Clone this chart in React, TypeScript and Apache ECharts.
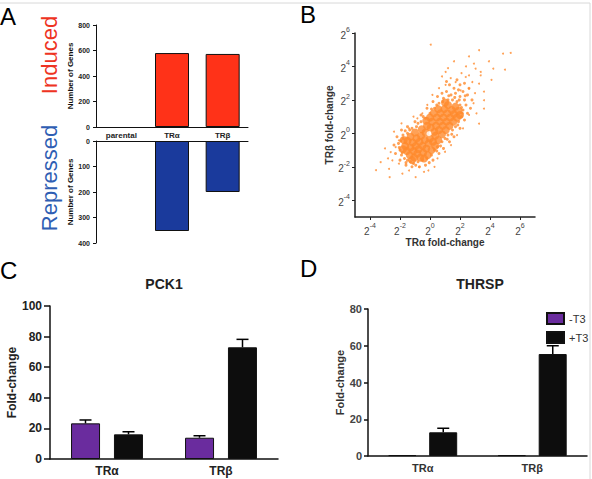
import React, { useEffect, useRef } from "react";
import * as echarts from "echarts";

// ---------- DATA ----------
const aCategories = ["parental", "TRα", "TRβ"];
const inducedValues = [0, 580, 573];
const repressedValues = [0, 353, 200];

// Panel B: log2 fold-change (x: TRα, y: TRβ)
const scatterCore: number[][] = [
  [-1.65, -0.75], [-1.55, -1.05], [-1.5, -0.45], [-1.35, -1.3], [-1.3, -0.85], [-1.3, -0.2],
  [-1.15, -0.55], [-1.1, -1.05], [-1.05, -1.45], [-1.0, 0.05], [-0.95, -0.75], [-0.9, -0.3],
  [-0.85, -1.2], [-0.75, -0.95], [-0.7, -0.5], [-0.65, -1.45], [-0.6, -0.15], [-0.55, 0.25],
  [-0.5, -0.75], [-0.45, -1.15], [-0.35, -0.4], [-0.3, 0.05], [-0.25, -0.9], [-0.2, 0.45],
  [-0.15, -1.3], [-0.1, -0.6], [0.0, -0.3], [0.05, 0.35], [0.1, -1.0], [0.15, 0.7],
  [0.2, -0.5], [0.3, 0.1], [0.35, -0.15], [0.4, 0.45], [0.45, 0.95], [0.55, -0.4],
  [0.6, 0.2], [0.65, 0.7], [0.7, 1.2], [0.8, -0.05], [0.85, 0.45], [0.9, 0.95],
  [0.95, 1.45], [1.05, 0.2], [1.1, 0.7], [1.15, 1.2], [1.2, 1.7], [1.3, 0.45],
  [1.35, 0.95], [1.45, 1.4], [1.55, 0.7], [1.6, 1.15], [1.7, 1.6], [1.8, 0.95],
  [1.9, 1.35], [0.25, 1.2], [0.0, 0.95], [-0.25, 0.75], [1.0, 1.85], [2.0, 1.1],
  [-1.8, -0.95], [-1.75, -0.4], [-1.2, -1.6], [-0.4, -1.5], [0.35, -0.75], [0.55, 1.45],
];
const scatterMid: number[][] = [
  [-2.0, -1.0], [-2.1, -0.6], [-1.9, -1.3], [-1.8, -0.3], [-1.7, -1.5], [-1.5, -1.6],
  [-1.3, -1.7], [-1.1, -1.8], [-0.8, -1.7], [-0.5, -1.6], [-0.2, -1.5], [0.1, -1.3],
  [0.3, -1.0], [0.5, -0.8], [0.8, -0.5], [1.0, -0.3], [1.2, -0.1], [1.5, 0.2],
  [1.7, 0.4], [1.9, 0.7], [2.1, 1.0], [2.2, 1.4], [2.0, 1.7], [1.8, 1.9],
  [1.5, 2.0], [1.2, 2.0], [0.9, 2.1], [0.6, 1.8], [0.3, 1.5], [0.0, 1.2],
  [-0.3, 0.9], [-0.6, 0.7], [-0.9, 0.4], [-1.2, 0.3], [-1.5, 0.0], [-1.8, -0.1],
  [1.4, 2.3], [1.7, 2.4], [2.0, 2.2], [2.3, 2.0], [2.4, 1.7], [1.1, 2.5],
  [1.6, 2.7], [1.9, 2.6], [2.2, 2.5], [2.5, 2.3], [1.3, 2.9], [2.0, 2.9],
  [2.6, 2.7], [0.8, 2.4], [0.5, 2.2], [2.5, 1.2], [2.3, 0.8], [2.0, 0.3],
  [1.6, -0.2], [1.3, -0.5], [0.9, -0.9], [0.6, -1.2], [0.2, -1.6], [-0.3, -1.9],
  [-0.7, -2.0], [-1.2, -2.0], [-1.6, -1.9], [-2.0, -1.6], [-2.3, -1.2], [-2.4, -0.7],
  [-2.2, -0.2], [-1.9, 0.2], [-1.5, 0.4], [-1.0, 0.7], [-0.6, 1.1], [-0.2, 1.5],
  [0.2, 1.9], [2.8, 2.0], [2.7, 1.5], [1.1, 3.1], [1.8, 3.2], [2.3, 3.0],
  [-2.05, -0.85], [-1.95, -0.45], [-1.85, -1.15], [-1.6, -1.75], [-0.95, -1.9], [-0.05, -1.75],
  [0.45, -1.05], [0.7, -0.75], [1.15, -0.35], [1.45, -0.05], [1.85, 0.5], [2.15, 1.2],
  [2.1, 1.55], [1.65, 2.15], [1.25, 2.25], [0.85, 1.9], [0.45, 1.7], [0.1, 1.45],
  [-0.45, 1.0], [-0.8, 0.6], [-1.35, 0.2], [-1.65, 0.15], [1.95, 2.0], [2.35, 2.25],
];
const scatterSparse: number[][] = [
  [0.05, 5.3], [3.27, 4.97], [4.87, 4.77], [5.38, 4.81], [1.6, 4.31], [5.0, 3.81],
  [3.93, 4.31], [4.22, 3.87], [2.93, 4.17], [3.38, 3.67], [3.6, 1.48], [3.27, 0.58],
  [3.6, 1.98], [-3.29, -1.72], [-2.73, -2.12], [-2.69, -2.62], [-1.84, -2.41],
  [-0.96, -2.62], [-0.11, -2.22], [-2.29, -0.82], [-2.07, -1.81], [1.04, 3.67],
  [2.38, 3.37], [2.82, 3.07], [2.6, 2.68], [2.04, 2.57], [1.71, 3.07], [3.27, 2.97],
  [3.38, 3.47], [3.04, 3.87], [2.6, 3.47], [-1.4, -2.22], [-0.73, -2.02], [-2.51, -1.62],
  [-2.62, -1.12], [-2.07, -0.42], [-1.4, 0.3], [-0.84, 0.9], [-0.51, 1.2], [-0.18, 1.7],
  [0.16, 2.3], [0.6, 2.7], [1.04, 2.9], [1.38, 3.3], [2.9, 1.8], [2.6, 1.1],
  [2.2, 0.3], [1.8, -0.1], [1.4, -0.7], [1.0, -1.1], [0.5, -1.5], [0.3, -2.0],
  [-0.4, -2.3], [-2.8, -1.5], [-3.0, -0.9], [-2.4, 0.1], [-1.1, 1.0], [2.4, 4.0],
  [2.1, 3.6], [3.6, 2.5], [3.0, 2.4], [4.1, 3.2], [0.8, 3.4], [3.1, 1.2],
  [-1.9, 0.6], [2.6, 4.6], [1.2, 3.9], [-3.6, -2.2],
];
const scatterCenter: number[][] = [[-0.07, -0.02]];
const logTicks = [-4, -2, 0, 2, 4, 6];

// Panels C & D
const qCategories = ["TRα", "TRβ"];
const pck1Minus = [23.3, 13.9];
const pck1MinusErr = [2.2, 1.3];
const pck1Plus = [16.1, 73];
const pck1PlusErr = [1.7, 5.2];
const thrspMinus = [0.5, 0.5];
const thrspPlus = [12.9, 55.5];
const thrspPlusErr = [2.2, 4.5];

const FONT = "Liberation Sans, Arial, Helvetica, sans-serif";
const PURPLE = "#6a2c9e";
const BLACK = "#0d0d0d";
const ORANGE = "#ff8a2c";

function errData(vals: number[], errs: number[], side: number) {
  return vals.map((v, i) => [i, v, errs[i], side]);
}

function noZero(vals: number[]) {
  return vals.map((v) => (v === 0 ? "-" : v));
}

function errSeries(xi: number, yi: number, data: number[][], offset: number) {
  return {
    type: "custom",
    xAxisIndex: xi,
    yAxisIndex: yi,
    z: 10,
    encode: { x: 0, y: 1 },
    data,
    renderItem: (params: any, api: any) => {
      const base = api.coord([api.value(0), api.value(1)]);
      const top = api.coord([api.value(0), api.value(1) + api.value(2)]);
      const x = base[0] + api.value(3) * offset;
      return {
        type: "group",
        children: [
          { type: "line", shape: { x1: x, y1: base[1], x2: x, y2: top[1] }, style: { stroke: "#000", lineWidth: 1.5 } },
          { type: "line", shape: { x1: x - 6, y1: top[1], x2: x + 6, y2: top[1] }, style: { stroke: "#000", lineWidth: 1.5 } },
        ],
      };
    },
  };
}

export default function App() {
  const ref = useRef<HTMLDivElement>(null);
  useEffect(() => {
    if (!ref.current) return;
    const chart = echarts.init(ref.current, null, { renderer: "svg" });
    const smallAxisLabel = { fontSize: 7, fontWeight: "bold", color: "#222", fontFamily: FONT, margin: 6 };
    const bLabel = {
      customValues: logTicks,
      margin: 5,
      formatter: (v: number) => `{b|2}{s|${v}}`,
      rich: {
        b: { fontSize: 10, color: "#444", fontFamily: FONT, lineHeight: 14, verticalAlign: "bottom" },
        s: { fontSize: 7, color: "#444", fontFamily: FONT, lineHeight: 14, verticalAlign: "top" },
      },
    };
    const option: any = {
      animation: false,
      backgroundColor: "#ffffff",
      textStyle: { fontFamily: FONT },
      grid: [
        { left: 96, top: 25, width: 152, height: 102 },
        { left: 96, top: 141, width: 152, height: 102 },
        { left: 355, top: 33, width: 180, height: 184 },
        { left: 50, top: 306, width: 228, height: 153 },
        { left: 368, top: 309, width: 219, height: 147 },
      ],
      legend: {
        data: ["-T3", "+T3"],
        orient: "vertical",
        left: 541,
        top: 307,
        itemWidth: 17,
        itemHeight: 11,
        itemGap: 6,
        icon: "rect",
        selectedMode: false,
        textStyle: { fontSize: 11, color: "#333", fontFamily: FONT },
      },
      xAxis: [
        {
          type: "category", gridIndex: 0, data: aCategories,
          axisLine: { lineStyle: { color: "#111", width: 1 } },
          axisTick: { alignWithLabel: true, length: 3, lineStyle: { color: "#111" } },
          axisLabel: { fontSize: 8, fontWeight: "bold", color: "#222", margin: 4 },
        },
        {
          type: "category", gridIndex: 1, data: aCategories, position: "top",
          axisLine: { lineStyle: { color: "#111", width: 1 } },
          axisTick: { alignWithLabel: true, length: 3, lineStyle: { color: "#111" } },
          axisLabel: { show: false },
        },
        {
          type: "value", gridIndex: 2, min: -5, max: 7,
          splitLine: { show: false },
          axisLine: { onZero: false, lineStyle: { color: "#222", width: 1.5 } },
          axisTick: { customValues: logTicks, length: 3, lineStyle: { color: "#222" } },
          axisLabel: bLabel,
          name: "TRα fold-change", nameLocation: "middle", nameGap: 20,
          nameTextStyle: { fontSize: 10, fontWeight: "bold", color: "#333" },
        },
        {
          type: "category", gridIndex: 3, data: qCategories,
          axisLine: { lineStyle: { color: "#111", width: 1.5 } },
          axisTick: { alignWithLabel: true, length: 5, lineStyle: { color: "#111", width: 1.5 } },
          axisLabel: { fontSize: 12, fontWeight: "bold", color: "#222", margin: 6 },
        },
        {
          type: "category", gridIndex: 4, data: qCategories,
          axisLine: { lineStyle: { color: "#111", width: 1.5 } },
          axisTick: { alignWithLabel: true, length: 5, lineStyle: { color: "#111", width: 1.5 } },
          axisLabel: { fontSize: 11, fontWeight: "bold", color: "#333", margin: 6 },
        },
      ],
      yAxis: [
        {
          type: "value", gridIndex: 0, min: 0, max: 800, interval: 200,
          splitLine: { show: false },
          axisLine: { show: true, lineStyle: { color: "#111", width: 1 } },
          axisTick: { show: true, length: 3, lineStyle: { color: "#111" } },
          axisLabel: smallAxisLabel,
          name: "Number of Genes", nameLocation: "middle", nameGap: 20,
          nameTextStyle: { fontSize: 8, fontWeight: "bold", color: "#111" },
        },
        {
          type: "value", gridIndex: 1, min: 0, max: 400, interval: 100, inverse: true,
          splitLine: { show: false },
          axisLine: { show: true, lineStyle: { color: "#111", width: 1 } },
          axisTick: { show: true, length: 3, lineStyle: { color: "#111" } },
          axisLabel: smallAxisLabel,
          name: "Number of Genes", nameLocation: "middle", nameGap: 20,
          nameTextStyle: { fontSize: 8, fontWeight: "bold", color: "#111" },
        },
        {
          type: "value", gridIndex: 2, min: -5, max: 6,
          splitLine: { show: false },
          axisLine: { show: true, onZero: false, lineStyle: { color: "#222", width: 1.5 } },
          axisTick: { show: true, customValues: logTicks, length: 3, lineStyle: { color: "#222" } },
          axisLabel: bLabel,
          name: "TRβ fold-change", nameLocation: "middle", nameGap: 20,
          nameTextStyle: { fontSize: 10, fontWeight: "bold", color: "#333" },
        },
        {
          type: "value", gridIndex: 3, min: 0, max: 100, interval: 20,
          splitLine: { show: false },
          axisLine: { show: true, lineStyle: { color: "#111", width: 1.5 } },
          axisTick: { show: true, length: 6, lineStyle: { color: "#111", width: 1.5 } },
          axisLabel: { fontSize: 12, fontWeight: "bold", color: "#222", margin: 8 },
          name: "Fold-change", nameLocation: "middle", nameGap: 22,
          nameTextStyle: { fontSize: 12, fontWeight: "bold", color: "#222" },
        },
        {
          type: "value", gridIndex: 4, min: 0, max: 80, interval: 20,
          splitLine: { show: false },
          axisLine: { show: true, lineStyle: { color: "#111", width: 1.5 } },
          axisTick: { show: true, length: 4, lineStyle: { color: "#111", width: 1.5 } },
          axisLabel: { fontSize: 11, fontWeight: "bold", color: "#444", margin: 6 },
          name: "Fold-change", nameLocation: "middle", nameGap: 19,
          nameTextStyle: { fontSize: 11, fontWeight: "bold", color: "#333" },
        },
      ],
      series: [
        {
          type: "bar", xAxisIndex: 0, yAxisIndex: 0, data: noZero(inducedValues), barWidth: 34,
          itemStyle: { color: "#ff3218", borderColor: "#111", borderWidth: 1 },
        },
        {
          type: "bar", xAxisIndex: 1, yAxisIndex: 1, data: noZero(repressedValues), barWidth: 34,
          itemStyle: { color: "#1a3a9c", borderColor: "#111", borderWidth: 1 },
        },
        {
          type: "scatter", xAxisIndex: 2, yAxisIndex: 2, data: scatterCore, symbolSize: 8,
          itemStyle: { color: ORANGE },
        },
        {
          type: "scatter", xAxisIndex: 2, yAxisIndex: 2, data: scatterMid, symbolSize: 3,
          itemStyle: { color: ORANGE },
        },
        {
          type: "scatter", xAxisIndex: 2, yAxisIndex: 2, data: scatterSparse, symbolSize: 2,
          itemStyle: { color: ORANGE },
        },
        {
          type: "scatter", xAxisIndex: 2, yAxisIndex: 2, data: scatterCenter, symbolSize: 5, z: 5,
          itemStyle: { color: "#ffffff" },
        },
        {
          name: "-T3", type: "bar", xAxisIndex: 3, yAxisIndex: 3, data: pck1Minus, barWidth: 29, barGap: "48%",
          itemStyle: { color: PURPLE, borderColor: "#111", borderWidth: 1 },
        },
        {
          name: "+T3", type: "bar", xAxisIndex: 3, yAxisIndex: 3, data: pck1Plus, barWidth: 29, barGap: "48%",
          itemStyle: { color: BLACK, borderColor: "#111", borderWidth: 1 },
        },
        errSeries(3, 3, errData(pck1Minus, pck1MinusErr, -1), 21.5),
        errSeries(3, 3, errData(pck1Plus, pck1PlusErr, 1), 21.5),
        {
          name: "-T3", type: "bar", xAxisIndex: 4, yAxisIndex: 4, data: thrspMinus, barWidth: 28, barGap: "46%",
          itemStyle: { color: PURPLE, borderColor: "#111", borderWidth: 1 },
        },
        {
          name: "+T3", type: "bar", xAxisIndex: 4, yAxisIndex: 4, data: thrspPlus, barWidth: 28, barGap: "46%",
          itemStyle: { color: BLACK, borderColor: "#111", borderWidth: 1 },
        },
        errSeries(4, 4, errData(thrspPlus, thrspPlusErr, 1), 20.5),
      ],
      graphic: [
        { type: "line", shape: { x1: 0, y1: 3, x2: 590, y2: 3 }, style: { stroke: "#d8d8d8", lineWidth: 1 } },
        { type: "line", shape: { x1: 590, y1: 3, x2: 590, y2: 479 }, style: { stroke: "#d8d8d8", lineWidth: 1 } },
        { type: "text", x: 0, y: 16, style: { text: "A", fontSize: 24, fill: "#000", fontFamily: FONT, textVerticalAlign: "middle" } },
        { type: "text", x: 300, y: 14, style: { text: "B", fontSize: 24, fill: "#000", fontFamily: FONT, textVerticalAlign: "middle" } },
        { type: "text", x: 0, y: 270, style: { text: "C", fontSize: 24, fill: "#000", fontFamily: FONT, textVerticalAlign: "middle" } },
        { type: "text", x: 300, y: 268, style: { text: "D", fontSize: 24, fill: "#000", fontFamily: FONT, textVerticalAlign: "middle" } },
        {
          type: "text", x: 49, y: 55, rotation: Math.PI / 2,
          style: { text: "Induced", fontSize: 22, fill: "#ee3322", fontFamily: FONT, textAlign: "center", textVerticalAlign: "middle" },
        },
        {
          type: "text", x: 49, y: 178, rotation: Math.PI / 2,
          style: { text: "Repressed", fontSize: 22, fill: "#2f5eb3", fontFamily: FONT, textAlign: "center", textVerticalAlign: "middle" },
        },
        {
          type: "text", x: 164, y: 284,
          style: { text: "PCK1", fontSize: 14, fontWeight: "bold", fill: "#222", fontFamily: FONT, textAlign: "center", textVerticalAlign: "middle" },
        },
        {
          type: "text", x: 480, y: 284,
          style: { text: "THRSP", fontSize: 14, fontWeight: "bold", fill: "#222", fontFamily: FONT, textAlign: "center", textVerticalAlign: "middle" },
        },
      ],
    };
    chart.setOption(option);
    return () => chart.dispose();
  }, []);
  return <div ref={ref} style={{ position: "fixed", left: 0, top: 0, width: 592, height: 479 }} />;
}
